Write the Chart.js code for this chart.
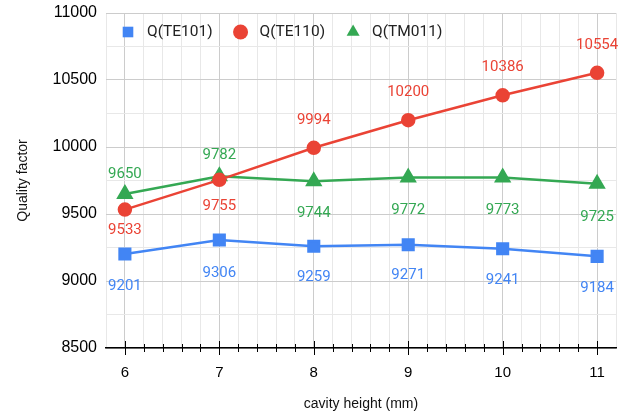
<!DOCTYPE html>
<html lang="en">
<head>
<meta charset="UTF-8">
<title>Quality factor vs cavity height</title>
<script src="https://cdn.jsdelivr.net/npm/chart.js@4/dist/chart.umd.min.js"></script>
<style>
  body { margin: 0; background: #fff; }
  #wrap { width: 632px; height: 416px; }
</style>
</head>
<body>
<div id="wrap"><canvas id="myChart"></canvas></div>
<script>
// cavity height (mm)
const heights = [6, 7, 8, 9, 10, 11];
const qTE101 = [9201, 9306, 9259, 9271, 9241, 9184];
const qTE110 = [9533, 9755, 9994, 10200, 10386, 10554];
const qTM011 = [9650, 9782, 9744, 9772, 9773, 9725];
const yMin = 8500, yMax = 11000;

// vertical shift of each value label from its point, px (negative = above)
const offTE101 = [32, 33, 31, 31, 32, 32];
const offTE110 = [21, 26, -28, -28, -28, -28];
const offTM011 = [-20, -21, 32, 33, 33, 33];

const isInt = v => Math.abs(v - Math.round(v)) < 1e-6;
const toPoints = ys => heights.map((h, i) => ({ x: h, y: ys[i] }));

// value labels next to each point
const valueLabels = {
    id: 'valueLabels',
    afterDatasetsDraw(chart) {
        const ctx = chart.ctx;
        ctx.save();
        ctx.font = '15px Roboto';
        ctx.textAlign = 'center';
        ctx.textBaseline = 'middle';
        chart.data.datasets.forEach((ds, di) => {
            const meta = chart.getDatasetMeta(di);
            ctx.fillStyle = ds.borderColor;
            meta.data.forEach((pt, i) => {
                ctx.fillText(ds.data[i].y, pt.x, pt.y + ds.labelOffset[i]);
            });
        });
        ctx.restore();
    }
};

// horizontal legend inside the plot, top left
const insideLegend = {
    id: 'insideLegend',
    afterDraw(chart) {
        const ctx = chart.ctx;
        const area = chart.chartArea;
        let x = area.left + 22;
        const y = area.top + 19;
        ctx.save();
        ctx.font = '15.5px Roboto';
        ctx.textBaseline = 'middle';
        chart.data.datasets.forEach(ds => {
            ctx.fillStyle = ds.backgroundColor;
            ctx.strokeStyle = ds.borderColor;
            ctx.lineWidth = 1;
            Chart.helpers.drawPoint(ctx, {
                pointStyle: ds.pointStyle,
                radius: ds.legendRadius,
                borderWidth: 0
            }, x, y);
            ctx.fillStyle = '#222';
            ctx.fillText(ds.label, x + 19, y);
            x += 19 + ctx.measureText(ds.label).width + 28;
        });
        ctx.restore();
    }
};

// small tick marks crossing the x axis line
const axisTicks = {
    id: 'axisTicks',
    afterDraw(chart) {
        const xs = chart.scales.x;
        const y0 = chart.chartArea.bottom;
        const ctx = chart.ctx;
        ctx.save();
        ctx.strokeStyle = '#000';
        ctx.lineWidth = 1;
        xs.ticks.forEach(t => {
            if (t.value < 5.9 || t.value > 11.1) return;
            const px = Math.round(xs.getPixelForValue(t.value)) + 0.5;
            const len = isInt(t.value) ? 7 : 4;
            ctx.beginPath();
            ctx.moveTo(px, y0 - len);
            ctx.lineTo(px, y0 + len);
            ctx.stroke();
        });
        ctx.restore();
    }
};

const ctx = document.getElementById('myChart').getContext('2d');
const myChart = new Chart(ctx, {
    type: 'line',
    data: {
        datasets: [{
            label: 'Q(TE101)',
            data: toPoints(qTE101),
            borderColor: '#4285F4',
            backgroundColor: '#4285F4',
            pointStyle: 'rect',
            pointRadius: 7.5,
            legendRadius: 7.5,
            borderWidth: 2.5,
            labelOffset: offTE101
        }, {
            label: 'Q(TE110)',
            data: toPoints(qTE110),
            borderColor: '#EA4335',
            backgroundColor: '#EA4335',
            pointStyle: 'circle',
            pointRadius: 6,
            legendRadius: 7.5,
            borderWidth: 2.5,
            labelOffset: offTE110
        }, {
            label: 'Q(TM011)',
            data: toPoints(qTM011),
            borderColor: '#34A853',
            backgroundColor: '#34A853',
            pointStyle: 'triangle',
            pointRadius: 7.5,
            legendRadius: 7.5,
            borderWidth: 2.5,
            labelOffset: offTM011
        }]
    },
    options: {
        responsive: true,
        maintainAspectRatio: false,
        animation: false,
        layout: { padding: { top: 13, right: 16, left: 0, bottom: 0 } },
        plugins: {
            legend: { display: false },
            tooltip: { enabled: false }
        },
        scales: {
            x: {
                type: 'linear',
                min: 5.8,
                max: 11.2,
                ticks: {
                    stepSize: 0.2,
                    autoSkip: false,
                    maxRotation: 0,
                    minRotation: 0,
                    padding: 16,
                    color: '#000',
                    font: { family: 'Liberation Sans', size: 15 },
                    callback: v => isInt(v) && v >= 6 && v <= 11 ? Math.round(v) : ''
                },
                grid: {
                    drawTicks: false,
                    color: c => isInt(c.tick.value) ? '#cccccc' : '#e8e8e8'
                },
                border: { color: '#000', width: 1.5 },
                title: {
                    display: true,
                    text: 'cavity height (mm)',
                    color: '#111',
                    font: { family: 'Liberation Sans', size: 14 },
                    padding: { top: 0, bottom: 3 }
                },
                afterFit: s => { s.height = 68; }
            },
            y: {
                min: yMin,
                max: yMax,
                ticks: {
                    stepSize: 250,
                    padding: 9,
                    color: '#000',
                    font: { family: 'Liberation Sans', size: 16 },
                    callback: v => v % 500 === 0 ? v : ''
                },
                grid: {
                    drawTicks: false,
                    color: c => c.tick.value % 500 === 0 ? '#cccccc' : '#e8e8e8'
                },
                border: { display: false },
                title: {
                    display: true,
                    text: 'Quality factor',
                    color: '#111',
                    font: { family: 'Liberation Sans', size: 14 },
                    padding: { top: 15, bottom: 0 }
                },
                afterFit: s => {
                    s.width = 106;
                    s.paddingTop = 0;
                    s.paddingBottom = 0;
                }
            }
        }
    },
    plugins: [valueLabels, insideLegend, axisTicks]
});
</script>
</body>
</html>
